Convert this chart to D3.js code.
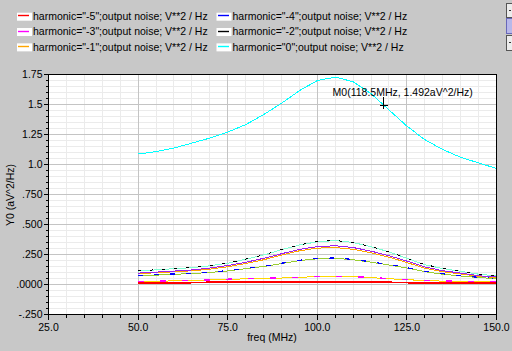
<!DOCTYPE html>
<html><head><meta charset="utf-8">
<script src="https://cdn.jsdelivr.net/npm/d3@7"></script>
<style>
html,body{margin:0;padding:0;background:#c8c8c8;overflow:hidden;}
svg{display:block;font-family:"Liberation Sans",Arial,sans-serif;}
</style></head><body>
<svg id="c" width="512" height="351"></svg>
<script>
// ---------- data ----------
const freq = [50,55,60,65,70,75,80,85,90,95,100,105,110,115,120,125,130,135,140,145,150];

const h0     = [1.087,1.108,1.137,1.178,1.220,1.270,1.332,1.415,1.510,1.615,1.700,1.728,1.690,1.590,1.455,1.320,1.207,1.125,1.060,1.013,0.967]; // cyan
const hAqua  = [0.112,0.122,0.132,0.140,0.156,0.177,0.210,0.246,0.290,0.329,0.356,0.366,0.350,0.315,0.272,0.218,0.165,0.133,0.110,0.086,0.071];
const hNeg2  = [0.113,0.123,0.133,0.141,0.157,0.178,0.211,0.247,0.291,0.330,0.358,0.367,0.351,0.316,0.273,0.219,0.166,0.134,0.111,0.087,0.072]; // black
const hPurp  = [0.095,0.103,0.112,0.121,0.137,0.158,0.185,0.218,0.256,0.293,0.315,0.323,0.308,0.278,0.240,0.195,0.146,0.115,0.095,0.073,0.062];
const hNeg1  = [0.090,0.098,0.106,0.114,0.128,0.148,0.175,0.206,0.245,0.281,0.303,0.308,0.293,0.265,0.228,0.183,0.136,0.107,0.088,0.068,0.058]; // orange
const hGreen = [0.072,0.078,0.085,0.091,0.100,0.113,0.132,0.150,0.174,0.199,0.214,0.218,0.206,0.186,0.163,0.137,0.107,0.086,0.071,0.057,0.050];
const hNeg4  = [0.075,0.081,0.088,0.094,0.103,0.116,0.135,0.153,0.177,0.202,0.217,0.221,0.209,0.189,0.166,0.140,0.110,0.089,0.074,0.060,0.053]; // blue
const hGold  = [0.026,0.027,0.030,0.034,0.038,0.043,0.047,0.050,0.054,0.060,0.066,0.067,0.065,0.057,0.048,0.040,0.033,0.028,0.026,0.025,0.025];
const hNeg3  = [0.026,0.028,0.031,0.035,0.039,0.044,0.048,0.051,0.055,0.061,0.067,0.068,0.066,0.058,0.049,0.041,0.034,0.029,0.027,0.026,0.026]; // magenta
const hNeg5  = [0.012,0.012,0.013,0.015,0.019,0.020,0.021,0.021,0.021,0.021,0.021,0.021,0.021,0.020,0.019,0.015,0.013,0.012,0.012,0.012,0.012]; // red

const legendLabels = [
  'harmonic="-5";output noise; V**2 / Hz',
  'harmonic="-4";output noise; V**2 / Hz',
  'harmonic="-3";output noise; V**2 / Hz',
  'harmonic="-2";output noise; V**2 / Hz',
  'harmonic="-1";output noise; V**2 / Hz',
  'harmonic="0";output noise; V**2 / Hz'
];
const legendColors = ["#ff0000","#0000ff","#ff00ff","#000000","#ffa500","#00ffff"];

const yTickValues = [-0.25,0,0.25,0.5,0.75,1.0,1.25,1.5,1.75];
const yTickLabels = ["-.250",".0000",".250",".500",".750","1.0","1.25","1.5","1.75"];
const xTickValues = [25,50,75,100,125,150];
const xTickLabels = ["25.0","50.0","75.0","100.0","125.0","150.0"];
const xTitle = "freq (MHz)";
const yTitle = "Y0 (aV^2/Hz)";
const markerF = 118.5, markerV = 1.492;
const markerLabel = "M0(118.5MHz, 1.492aV^2/Hz)";

// ---------- drawing ----------
const svg = d3.select("#c");
const L = 48.5, R = 496.5, T = 74.5, B = 314.5;
const x = d3.scaleLinear().domain([25,150]).range([L,R]);
const y = d3.scaleLinear().domain([-0.25,1.75]).range([B,T]);
const FS = "10.5px";
const px = v => Math.round(v-0.5)+0.5;

svg.append("rect").attr("width",512).attr("height",351).attr("fill","#c8c8c8");
svg.append("rect").attr("x",L).attr("y",T).attr("width",R-L).attr("height",B-T).attr("fill","#ffffff");

// grid
const g = svg.append("g").attr("shape-rendering","crispEdges");
const xMinor = d3.range(25,150.01,5);
const yMinor = d3.range(-0.25,1.7501,0.05);
g.selectAll(".vmin").data(xMinor).join("line")
  .attr("x1",d=>px(x(d))).attr("x2",d=>px(x(d)))
  .attr("y1",T).attr("y2",B).attr("stroke","#ebebeb");
g.selectAll(".hmin").data(yMinor).join("line")
  .attr("y1",d=>px(y(d))).attr("y2",d=>px(y(d)))
  .attr("x1",L).attr("x2",R).attr("stroke","#ebebeb");
g.selectAll(".vmaj").data(xTickValues).join("line")
  .attr("x1",d=>px(x(d))).attr("x2",d=>px(x(d)))
  .attr("y1",T).attr("y2",B).attr("stroke","#c4c4c4");
g.selectAll(".hmaj").data(yTickValues).join("line")
  .attr("y1",d=>px(y(d))).attr("y2",d=>px(y(d)))
  .attr("x1",L).attr("x2",R).attr("stroke","#c4c4c4");

// clip
svg.append("clipPath").attr("id","clip").append("rect")
  .attr("x",L).attr("y",T).attr("width",R-L).attr("height",B-T);

const line = d3.line().x((d,i)=>x(freq[i])).y(d=>y(d));
const series = [
  {v:hNeg5, c:"#ff0000", w:1.6},
  {v:hGold, c:"#ffd700", w:1},
  {v:hNeg3, c:"#ff00ff", w:1.4, dash:"6,16"},
  {v:hGreen, c:"#9acd32", w:1},
  {v:hNeg4, c:"#0000ff", w:1.2, dash:"5,11"},
  {v:hNeg1, c:"#ffa500", w:1},
  {v:hPurp, c:"#a020f0", w:1},
  {v:hAqua, c:"#7fffd4", w:1},
  {v:hNeg2, c:"#000000", w:1, dash:"3,9"},
  {v:h0, c:"#00ffff", w:1}
];
const pg = svg.append("g").attr("clip-path","url(#clip)");
pg.selectAll("path").data(series).join("path")
  .attr("d",d=>line(d.v)).attr("fill","none")
  .attr("stroke",d=>d.c).attr("stroke-width",d=>d.w)
  .attr("stroke-dasharray",d=>d.dash||null)
  .attr("shape-rendering","crispEdges");

// border
svg.append("rect").attr("x",L).attr("y",T).attr("width",R-L).attr("height",B-T)
  .attr("fill","none").attr("stroke","#000").attr("stroke-width",1).attr("shape-rendering","crispEdges");

// axes ticks
const ax = svg.append("g").attr("shape-rendering","crispEdges");
ax.selectAll(".ytm").data(yMinor).join("line")
  .attr("x1",L-3).attr("x2",L).attr("y1",d=>px(y(d))).attr("y2",d=>px(y(d))).attr("stroke","#000");
ax.selectAll(".ytM").data(yTickValues).join("line")
  .attr("x1",L-5).attr("x2",L).attr("y1",d=>px(y(d))).attr("y2",d=>px(y(d))).attr("stroke","#000");
ax.selectAll(".xtm").data(xMinor).join("line")
  .attr("y1",B).attr("y2",B+3).attr("x1",d=>px(x(d))).attr("x2",d=>px(x(d))).attr("stroke","#000");
ax.selectAll(".xtM").data(xTickValues).join("line")
  .attr("y1",B).attr("y2",B+5).attr("x1",d=>px(x(d))).attr("x2",d=>px(x(d))).attr("stroke","#000");

svg.selectAll(".ylab").data(yTickValues).join("text")
  .attr("x",L-6).attr("y",d=>y(d)+3.8).attr("text-anchor","end")
  .attr("font-size",FS).attr("fill","#000").text((d,i)=>yTickLabels[i]);
svg.selectAll(".xlab").data(xTickValues).join("text")
  .attr("x",d=>x(d)).attr("y",B+16).attr("text-anchor","middle")
  .attr("font-size",FS).attr("fill","#000").text((d,i)=>xTickLabels[i]);

svg.append("text").attr("x",272).attr("y",341).attr("text-anchor","middle")
  .attr("font-size",FS).text(xTitle);
svg.append("text").attr("transform","translate(13.5,195) rotate(-90)").attr("text-anchor","middle")
  .attr("font-size",FS).text(yTitle);

// marker
const mx = px(x(markerF)), my = px(y(markerV));
const mg = svg.append("g").attr("shape-rendering","crispEdges").attr("stroke","#000");
mg.append("line").attr("x1",mx).attr("x2",mx).attr("y1",my-9).attr("y2",my+3);
mg.append("line").attr("x1",mx-4).attr("x2",mx+4).attr("y1",my).attr("y2",my);
svg.append("text").attr("x",x(markerF)-51).attr("y",y(markerV)-9.5)
  .attr("font-size",FS).text(markerLabel);

// legend
const lg = svg.append("g");
legendLabels.forEach((lab,i)=>{
  const col = i%2, row = Math.floor(i/2);
  const bx = col===0 ? 17 : 216.5;
  const by = 12.7 + row*15.33;
  lg.append("rect").attr("x",bx).attr("y",by).attr("width",15).attr("height",8).attr("fill","#fff");
  lg.append("line").attr("x1",Math.round(bx+1)).attr("x2",Math.round(bx+12)).attr("y1",px(by+3)).attr("y2",px(by+3))
    .attr("stroke",legendColors[i]).attr("stroke-width",1.4);
  lg.append("text").attr("x",bx+16).attr("y",by+7.3).attr("font-size",FS).text(lab);
});

// scroll widget
const sw = svg.append("g").attr("shape-rendering","crispEdges");
sw.append("rect").attr("x",506.5).attr("y",3.5).attr("width",8).attr("height",14).attr("fill","#ececec").attr("stroke","#555");
sw.append("rect").attr("x",506.5).attr("y",18.5).attr("width",8).attr("height",15).attr("fill","#b8b8ea").attr("stroke","#6868b8");
sw.append("rect").attr("x",506.5).attr("y",35.5).attr("width",8).attr("height",15).attr("fill","#ececec").attr("stroke","#555");
sw.append("line").attr("x1",509).attr("x2",511).attr("y1",10.5).attr("y2",10.5).attr("stroke","#333");
sw.append("line").attr("x1",509).attr("x2",511).attr("y1",42.5).attr("y2",42.5).attr("stroke","#333");
</script>
</body></html>
